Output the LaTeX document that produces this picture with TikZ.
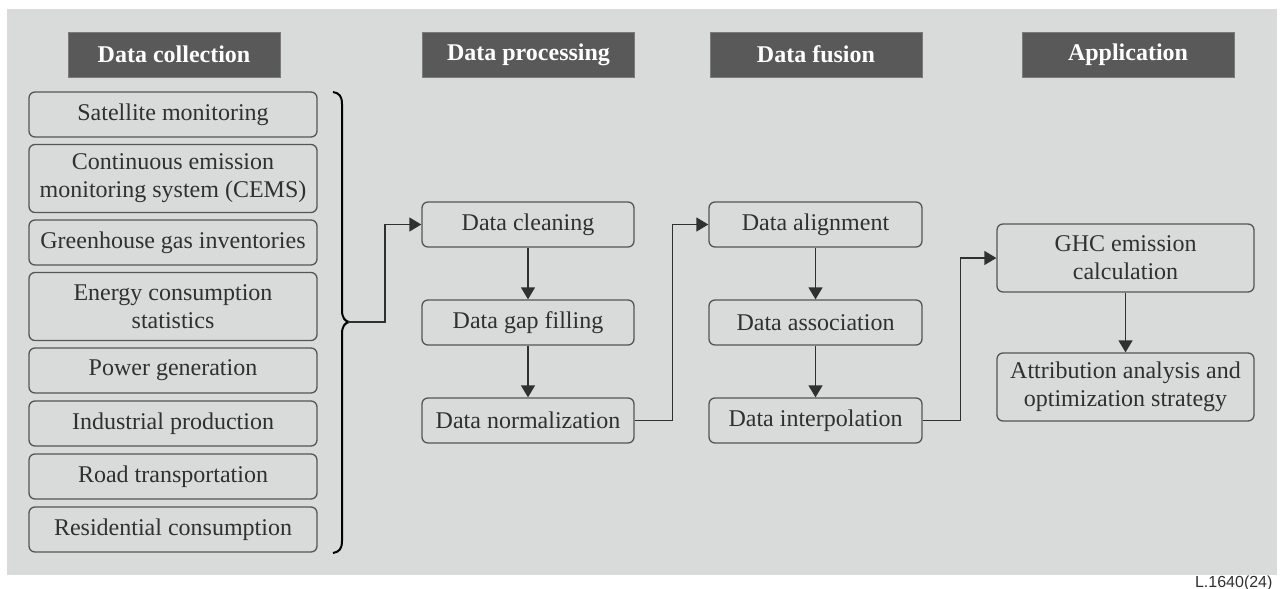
\documentclass[tikz,border=0pt]{standalone}
\usepackage{fontspec}
\setmainfont{Liberation Serif}
\newfontfamily\labelfont{Liberation Sans}
\usetikzlibrary{arrows.meta}
\definecolor{panel}{HTML}{D9DBDA}
\definecolor{headfill}{HTML}{595959}
\definecolor{boxline}{HTML}{555555}
\definecolor{ink}{HTML}{303030}
\tikzset{
  x=1pt, y=-1pt,
  stagebox/.style={draw=boxline, line width=1.3pt, rounded corners=6pt,
    text=ink, align=center, inner sep=0pt,
    font=\fontsize{24}{28}\selectfont},
  single/.style={stagebox, minimum height=45pt},
  double/.style={stagebox, minimum height=68pt},
  header/.style={fill=headfill, draw=headfill!80!white, line width=0.6pt, text=white,
    minimum width=212pt, minimum height=45pt, inner sep=0pt,
    font=\fontsize{24}{28}\selectfont\bfseries},
  flow/.style={draw=ink, line width=1.4pt, -{Triangle[length=12pt,width=14pt]}},
}
\begin{document}
\begin{tikzpicture}
\useasboundingbox (0,0) rectangle (1280,589);
\fill[panel] (7,9) rectangle (1277,575);

% stage headers
\node[header] (h1) at (174,54.5) {Data collection};
\node[header] (h2) at (528.5,54.5) {Data processing};
\node[header] (h3) at (816,54.5) {Data fusion};
\node[header] (h4) at (1128,54.5) {Application};

% data sources
\begin{scope}[every node/.append style={minimum width=288pt}]
\node[single] (s1) at (173,114.5) {Satellite monitoring};
\node[double] (s2) at (173,178.5) {Continuous emission\\monitoring system (CEMS)};
\node[single] (s3) at (173,242.5) {Greenhouse gas inventories};
\node[double] (s4) at (173,306.5) {Energy consumption\\statistics};
\node[single] (s5) at (173,370.5) {Power generation};
\node[single] (s6) at (173,423.5) {Industrial production};
\node[single] (s7) at (173,476.5) {Road transportation};
\node[single] (s8) at (173,529.5) {Residential consumption};
\end{scope}

% brace gathering the sources
\draw[black, line width=2pt]
  (333,92) .. controls (339,93) and (342,96) .. (342,104)
  -- (342,310) .. controls (342,318) and (345,321) .. (349,322)
  .. controls (345,323) and (342,326) .. (342,334)
  -- (342,541) .. controls (342,549) and (339,552) .. (333,553);
\coordinate (tip) at (348,322);

% processing
\begin{scope}[every node/.append style={minimum width=212pt}]
\node[single] (dc) at (528,224.5) {Data cleaning};
\node[single] (dg) at (528,322.5) {Data gap filling};
\node[single] (dn) at (528,420.5) {Data normalization};
\end{scope}

% fusion
\begin{scope}[every node/.append style={minimum width=213pt}]
\node[single] (fa) at (815.5,224.5) {Data alignment};
\node[single] (fs) at (815.5,322.5) {Data association};
\node[single] (fi) at (815.5,420.5) {Data interpolation};
\end{scope}

% application
\begin{scope}[every node/.append style={minimum width=257pt}]
\node[double] (ghc) at (1125.5,258) {GHC emission\\calculation};
\node[double] (att) at (1125.5,387) {Attribution analysis and\\optimization strategy};
\end{scope}

% connectors
\draw[flow] (tip) -- ++(37,0) |- (dc.west);
\draw[flow] (dc) -- (dg);
\draw[flow] (dg) -- (dn);
\draw[flow] (dn.east) -- ++(38,0) |- (fa.west);
\draw[flow] (fa) -- (fs);
\draw[flow] (fs) -- (fi);
\draw[flow] (fi.east) -- ++(38,0) |- (ghc.west);
\draw[flow] (ghc) -- (att);

\node[anchor=base east, font=\labelfont\fontsize{16}{18}\selectfont, text=ink] (tag) at (1276,587) {L.1640(24)};
\end{tikzpicture}
\end{document}
